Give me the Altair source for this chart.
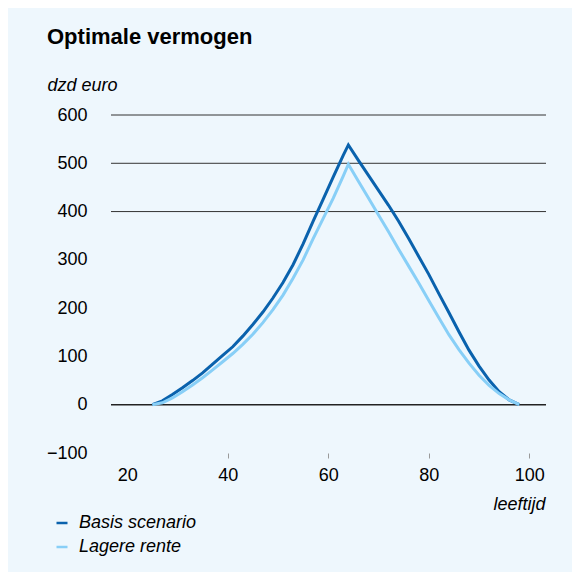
import altair as alt
import pandas as pd

# Data (age in years, wealth in thousand euro)
ages = [25, 27, 29, 31, 33, 35, 37, 39, 41, 43, 45, 47, 49, 51, 53, 55, 57, 59, 61, 63, 64,
        66, 68, 70, 72, 74, 76, 78, 80, 82, 84, 86, 88, 90, 92, 94, 96, 98]
basis = [0, 8, 21, 35, 50, 66, 84, 102, 120, 142, 166, 192, 221, 253, 290, 333, 380, 426, 472, 517, 538,
         506, 475, 444, 413, 380, 344, 307, 270, 230, 191, 151, 113, 80, 51, 27, 10, 0]
lagere = [0, 4, 14, 27, 41, 56, 72, 89, 106, 125, 146, 170, 197, 227, 262, 300, 344, 386, 428, 474, 498,
          463, 428, 393, 358, 322, 287, 252, 216, 180, 145, 114, 86, 61, 40, 23, 10, 0]
series_names = ["Basis scenario", "Lagere rente"]
series_colors = ["#0a62ad", "#88cff7"]
grid_values = [400, 500, 600]
zero_value = [0]
x_ticks = [20, 40, 60, 80, 100]
y_ticks = [-100, 0, 100, 200, 300, 400, 500, 600]

rows = []
for a, b in zip(ages, basis):
    rows.append({"leeftijd": a, "waarde": b, "reeks": series_names[0]})
for a, l in zip(ages, lagere):
    rows.append({"leeftijd": a, "waarde": l, "reeks": series_names[1]})
df = pd.DataFrame(rows)

FONT = "Liberation Sans"

x_enc = alt.X(
    "leeftijd:Q",
    scale=alt.Scale(domain=[16.78, 103.32], nice=False, zero=False),
    axis=alt.Axis(
        values=x_ticks,
        title="leeftijd",
        titleFontStyle="italic",
        titleFontWeight="normal",
        titleFontSize=18,
        titleColor="#000000",
        titleAlign="right",
        titleBaseline="alphabetic",
        titleAnchor="end",
        titleX=434,
        titleY=56,
        domain=False,
        grid=False,
        tickSize=5,
        tickColor="#9a9a9a",
        tickOpacity={"condition": {"test": "datum.value == 20", "value": 0}, "value": 1},
        labelFontSize=18,
        labelColor="#000000",
        labelPadding=8,
        labelFont=FONT,
        titleFont=FONT,
    ),
)
y_enc = alt.Y(
    "waarde:Q",
    scale=alt.Scale(domain=[-100, 600], nice=False, zero=False),
    axis=alt.Axis(
        values=y_ticks,
        title="dzd euro",
        titleAngle=0,
        titleFontStyle="italic",
        titleFontWeight="normal",
        titleFontSize=18,
        titleColor="#000000",
        titleAlign="left",
        titleBaseline="alphabetic",
        titleX=-64,
        titleY=-25,
        domain=False,
        grid=False,
        ticks=False,
        labelFontSize=18,
        labelColor="#000000",
        labelPadding=24,
        labelExpr="replace(datum.label, '-', '\u2212')",
        labelFont=FONT,
        titleFont=FONT,
    ),
)

color_enc = alt.Color(
    "reeks:N",
    scale=alt.Scale(domain=series_names, range=series_colors),
    legend=alt.Legend(
        title=None,
        orient="none",
        legendX=-58,
        legendY=399,
        symbolType="stroke",
        symbolSize=121,
        symbolStrokeWidth=2.5,
        labelFontSize=18,
        labelFontStyle="italic",
        labelFont=FONT,
        labelColor="#000000",
        labelOffset=8,
        rowPadding=6,
        padding=0,
    ),
)

grid_df = pd.DataFrame({"waarde": grid_values})
zero_df = pd.DataFrame({"waarde": zero_value})

grid = alt.Chart(grid_df).mark_rule(color="#333333", strokeWidth=1).encode(y=alt.Y("waarde:Q"))
zero = alt.Chart(zero_df).mark_rule(color="#222222", strokeWidth=1.6).encode(y=alt.Y("waarde:Q"))

line_basis = (
    alt.Chart(df)
    .transform_filter(alt.datum.reeks == series_names[0])
    .mark_line(strokeWidth=3)
    .encode(x=x_enc, y=y_enc, color=color_enc)
)
line_lagere = (
    alt.Chart(df)
    .transform_filter(alt.datum.reeks == series_names[1])
    .mark_line(strokeWidth=3)
    .encode(x=x_enc, y=y_enc, color=color_enc)
)

chart = (
    alt.layer(grid, zero, line_basis, line_lagere)
    .properties(
        width=435,
        height=338,
        title=alt.TitleParams(
            "Optimale vermogen",
            anchor="start",
            frame="group",
            font=FONT,
            fontSize=22,
            fontWeight="bold",
            color="#000000",
            dx=-64,
            offset=27,
        ),
        autosize=alt.AutoSizeParams(type="none"),
        padding={"left": 103, "top": 107, "right": 26, "bottom": 119},
        background="#eef7fd",
    )
    .configure_view(stroke=None)
)

chart.save("out.html", embed_options={"renderer": "svg", "actions": False})
